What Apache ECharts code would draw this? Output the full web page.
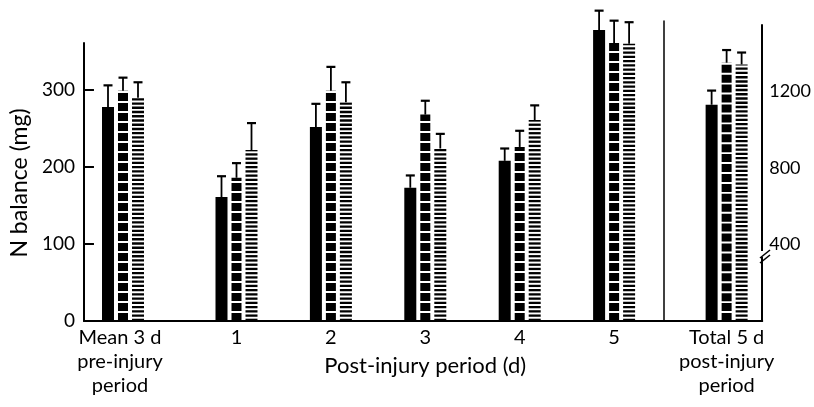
<!DOCTYPE html>
<html><head><meta charset="utf-8">
<script src="https://cdn.jsdelivr.net/npm/echarts@6/dist/echarts.min.js"></script>
<style>html,body{margin:0;padding:0;background:#fff}#c{width:814px;height:407px}</style>
</head><body><div id="c"></div>
<script>
// ---- data ----
const preCategory = ['Mean 3 d\npre-injury\nperiod'];
const dayCategories = ['1', '2', '3', '4', '5'];
const totalCategory = ['Total 5 d\npost-injury\nperiod'];
const xAxisTitle = 'Post-injury period (d)';
const yAxisTitle = 'N balance (mg)';
const leftTicks = [0, 100, 200, 300];
const rightTicks = [400, 800, 1200];
// three treatment groups (solid, blocks, stripes)
const preMean = [278, 299, 290];
const preErr = [28, 17, 20];
const daysSolid = [161, 252, 173, 208, 378];
const daysSolidErr = [27, 30, 16, 16, 25];
const daysBlocks = [186, 299, 268, 226, 361];
const daysBlocksErr = [19, 31, 18, 21, 29];
const daysStripes = [222, 284, 224, 261, 360];
const daysStripesErr = [35, 26, 19, 19, 28];
const totalMean = [1131, 1351, 1342];
const totalErr = [74, 66, 62];

// ---- layout / style ----
const LEFT_MAX = 361, RIGHT_MAX = 1548;
const BAR_W = 12, BAR_STEP = 15;
const FONT = 'Lato';
const TXT = {color: '#000', fontFamily: FONT, fontSize: 20};
const TICK_TXT = {color: '#000', fontFamily: FONT, fontSize: 19};
const RTICK_TXT = {color: '#000', fontFamily: FONT, fontSize: 18};
const XTITLE_TXT = {color: '#000', fontFamily: FONT, fontSize: 22};
const YTITLE_TXT = {color: '#000', fontFamily: FONT, fontSize: 23};

function barStyle(kind, bounding) {
  if (kind === 0) return {symbol: 'rect', symbolSize: ['100%', '100%'], itemStyle: {color: '#000'}};
  if (kind === 1) return {symbol: 'rect', symbolRepeat: true, symbolSize: [10, 8], symbolMargin: 1.1,
    symbolClip: true, symbolBoundingData: bounding, itemStyle: {color: '#000'}};
  return {symbol: 'rect', symbolRepeat: true, symbolSize: [12, 2.3], symbolMargin: 1.0,
    symbolClip: true, symbolBoundingData: bounding, itemStyle: {color: '#000'}};
}
function bars(axisIdx, values, kind, bounding) {
  return Object.assign({type: 'pictorialBar', xAxisIndex: axisIdx, yAxisIndex: axisIdx,
    barWidth: BAR_W, barGap: '25%', data: values, z: 2, silent: true}, barStyle(kind, bounding));
}
function errSeries(axisIdx, items) {
  return {type: 'custom', xAxisIndex: axisIdx, yAxisIndex: axisIdx, z: 5, silent: true, data: items,
    renderItem: function (params, api) {
      const base = api.coord([api.value(0), api.value(1)]);
      const top = api.coord([api.value(0), api.value(1) + api.value(2)]);
      const x = base[0] + (api.value(3) - 1) * BAR_STEP;
      const st = {stroke: '#000', lineWidth: 1.8};
      return {type: 'group', children: [
        {type: 'line', shape: {x1: x, y1: base[1], x2: x, y2: top[1]}, style: st},
        {type: 'line', shape: {x1: x - 4.5, y1: top[1], x2: x + 4.5, y2: top[1]}, style: {stroke: '#000', lineWidth: 2.2}}
      ]};
    }};
}
// build error items [category, value, err, barIndex]
const preErrItems = preMean.map((v, i) => [0, v, preErr[i], i]);
const totalErrItems = totalMean.map((v, i) => [0, v, totalErr[i], i]);
const dayErrItems = [];
[[daysSolid, daysSolidErr], [daysBlocks, daysBlocksErr], [daysStripes, daysStripesErr]].forEach((p, s) => {
  p[0].forEach((v, c) => dayErrItems.push([c, v, p[1][c], s]));
});

const axisLine = {show: true, lineStyle: {color: '#000', width: 2}};
const hiddenX = {axisLine: {show: false}, axisTick: {show: false}, axisLabel: {show: false}, splitLine: {show: false}};

const chart = echarts.init(document.getElementById('c'), null, {renderer: 'canvas'});
chart.setOption({
  animation: false,
  backgroundColor: '#fff',
  grid: [
    {left: 80, width: 584, top: 43, bottom: 86},   // 0 frame left
    {left: 80, width: 86, top: 43, bottom: 86},    // 1 pre-injury
    {left: 189.3, width: 472, top: 43, bottom: 86},// 2 days
    {left: 691, width: 74, top: 25, bottom: 86},   // 3 total
    {left: 664, width: 27, top: 21, bottom: 86}    // 4 divider
  ],
  xAxis: [
    Object.assign({gridIndex: 0, type: 'value', min: 0, max: 1}, hiddenX, {axisLine: axisLine}),
    {gridIndex: 1, type: 'category', data: preCategory, axisLine: {show: false}, axisTick: {show: false},
      axisLabel: Object.assign({margin: 5, lineHeight: 24, padding: [0, 6, 0, 0]}, TXT)},
    {gridIndex: 2, type: 'category', data: dayCategories, axisLine: {show: false}, axisTick: {show: false},
      axisLabel: Object.assign({margin: 5, lineHeight: 24}, TXT),
      name: xAxisTitle, nameLocation: 'middle', nameGap: 30, nameTextStyle: XTITLE_TXT},
    {gridIndex: 3, type: 'category', data: totalCategory, axisLine: axisLine, axisTick: {show: false},
      axisLabel: Object.assign({margin: 5, lineHeight: 24}, TXT)},
    Object.assign({gridIndex: 4, type: 'value', min: 0, max: 1}, hiddenX, {axisLine: axisLine})
  ],
  yAxis: [
    {gridIndex: 0, type: 'value', min: 0, max: LEFT_MAX, position: 'left',
      axisLine: axisLine, splitLine: {show: false},
      axisTick: {inside: true, length: 10, lineStyle: {width: 2, color: '#000'}, customValues: leftTicks},
      axisLabel: Object.assign({margin: 9, customValues: leftTicks}, TICK_TXT),
      name: yAxisTitle, nameLocation: 'middle', nameGap: 52,
      nameTextStyle: Object.assign({padding: [0, 2, 0, 0]}, YTITLE_TXT)},
    {gridIndex: 1, type: 'value', min: 0, max: LEFT_MAX, show: false},
    {gridIndex: 2, type: 'value', min: 0, max: LEFT_MAX, show: false},
    {gridIndex: 3, type: 'value', min: 0, max: RIGHT_MAX, position: 'right',
      axisLine: axisLine, splitLine: {show: false},
      axisTick: {inside: true, length: 11, lineStyle: {width: 2, color: '#000'}, customValues: rightTicks},
      axisLabel: Object.assign({margin: 7, customValues: rightTicks, formatter: v => String(v)}, RTICK_TXT)},
    {gridIndex: 4, type: 'value', min: 0, max: 1, position: 'left',
      axisLine: {show: true, lineStyle: {color: '#000', width: 1.5}}, axisTick: {show: false},
      axisLabel: {show: false}, splitLine: {show: false}}
  ],
  series: [
    bars(1, [preMean[0]], 0, LEFT_MAX), bars(1, [preMean[1]], 1, LEFT_MAX), bars(1, [preMean[2]], 2, LEFT_MAX),
    bars(2, daysSolid, 0, LEFT_MAX), bars(2, daysBlocks, 1, LEFT_MAX), bars(2, daysStripes, 2, LEFT_MAX),
    bars(3, [totalMean[0]], 0, RIGHT_MAX), bars(3, [totalMean[1]], 1, RIGHT_MAX), bars(3, [totalMean[2]], 2, RIGHT_MAX),
    errSeries(1, preErrItems), errSeries(2, dayErrItems), errSeries(3, totalErrItems)
  ],
  graphic: [
    {type: 'rect', left: 761, top: 251, shape: {width: 8, height: 6}, style: {fill: '#fff'}, z: 10},
    {type: 'line', shape: {x1: 760, y1: 258, x2: 770, y2: 250}, style: {stroke: '#000', lineWidth: 1.6}, z: 11},
    {type: 'line', shape: {x1: 760, y1: 263, x2: 770, y2: 255}, style: {stroke: '#000', lineWidth: 1.6}, z: 11}
  ]
});
</script></body></html>
